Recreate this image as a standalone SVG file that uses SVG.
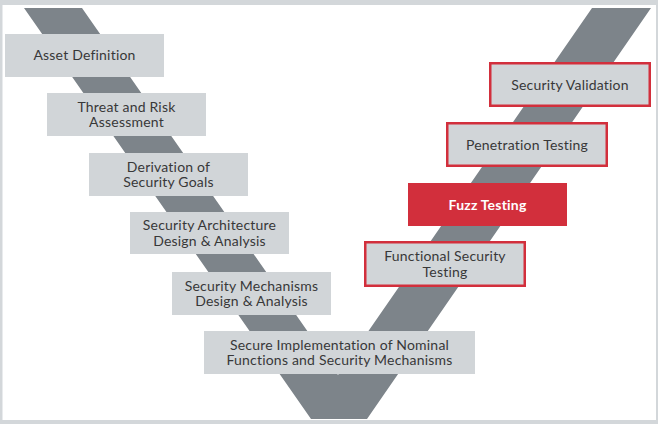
<svg xmlns="http://www.w3.org/2000/svg" width="658" height="424" viewBox="0 0 658 424">
<style>
.box{fill:#d1d5d8}
.hl{fill:#d1d5d8;stroke:#d22f3c;stroke-width:2.5}
.red{fill:#d22f3c}
.t{font-family:"Lato","Liberation Sans",sans-serif;font-size:14px;letter-spacing:0.2px;fill:#383838;text-anchor:middle}
.tw{font-family:"Lato","Liberation Sans",sans-serif;font-size:14px;letter-spacing:0.2px;font-weight:bold;fill:#ffffff;text-anchor:middle}
</style>
<rect x="0" y="0" width="658" height="424" fill="#d3d7da"/>
<rect x="2.5" y="5" width="653.5" height="415" fill="#ffffff"/>
<g id="v-shape">
<polygon points="24,8 82,8 338,375 592,8 651,8 367,419 311,419" fill="#7d848a"/>
</g>
<g id="connectors"></g>
<g id="asset-definition">
<rect class="box" x="5" y="34" width="159" height="43"/>
<text class="t" x="84.5" y="60">Asset Definition</text>
</g>
<g id="threat-risk">
<rect class="box" x="47" y="93" width="159" height="43"/>
<text class="t" x="126.5" y="111.7">Threat and Risk</text>
<text class="t" x="126.5" y="127.3">Assessment</text>
</g>
<g id="security-goals">
<rect class="box" x="89" y="153" width="159" height="43"/>
<text class="t" x="168.5" y="171.7">Derivation of</text>
<text class="t" x="168.5" y="187.3">Security Goals</text>
</g>
<g id="security-architecture">
<rect class="box" x="130" y="212" width="159" height="42"/>
<text class="t" x="209.5" y="230.2">Security Architecture</text>
<text class="t" x="209.5" y="245.8">Design &amp; Analysis</text>
</g>
<g id="security-mechanisms">
<rect class="box" x="172" y="272" width="159" height="43"/>
<text class="t" x="251.5" y="290.7">Security Mechanisms</text>
<text class="t" x="251.5" y="306.3">Design &amp; Analysis</text>
</g>
<g id="secure-implementation">
<rect class="box" x="204" y="331" width="271" height="43"/>
<text class="t" x="339.5" y="349.7">Secure Implementation of Nominal</text>
<text class="t" x="339.5" y="365.3">Functions and Security Mechanisms</text>
</g>
<g id="functional-security-testing">
<rect class="hl" x="365.25" y="242.25" width="159.5" height="43.5"/>
<text class="t" x="445" y="261.2">Functional Security</text>
<text class="t" x="445" y="276.8">Testing</text>
</g>
<g id="fuzz-testing">
<rect class="red" x="408" y="183" width="159" height="43"/>
<text class="tw" x="487.5" y="209.5">Fuzz Testing</text>
</g>
<g id="penetration-testing">
<rect class="hl" x="447.25" y="123.25" width="159.5" height="42.5"/>
<text class="t" x="527" y="149.5">Penetration Testing</text>
</g>
<g id="security-validation">
<rect class="hl" x="490.25" y="63.25" width="159.5" height="42.5"/>
<text class="t" x="570" y="89.5">Security Validation</text>
</g>
</svg>
